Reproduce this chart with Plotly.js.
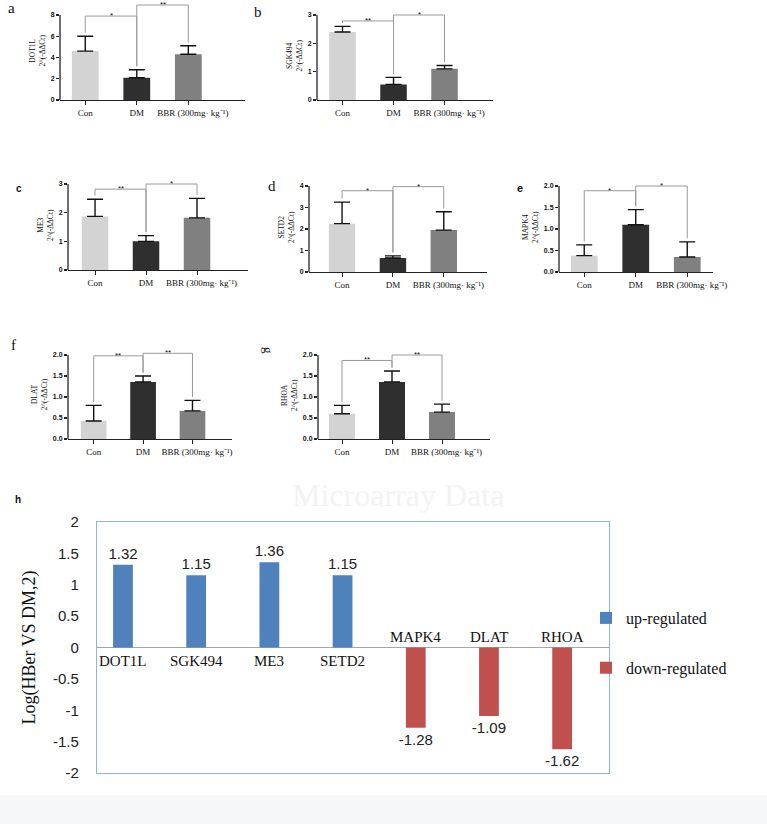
<!DOCTYPE html>
<html>
<head>
<meta charset="utf-8">
<script src="https://cdn.plot.ly/plotly-3.0.1.min.js"></script>
<style>
  html, body { margin: 0; padding: 0; background: #fff; }
  #chart { width: 767px; height: 824px; }
</style>
</head>
<body>
<div id="chart"></div>
<script>
const W = 767, H = 824;

// qPCR panels a-g
const genes = ['DOT1L', 'SGK494', 'ME3', 'SETD2', 'MAPK4', 'DLAT', 'RHOA'];
const groups = ['Con', 'DM', 'BBR (300mg· kg⁻¹)'];
const conMean = [4.6, 2.4, 1.87, 2.25, 0.38, 0.43, 0.60];
const dmMean = [2.1, 0.55, 1.0, 0.65, 1.1, 1.36, 1.36];
const bbrMean = [4.3, 1.1, 1.82, 1.95, 0.35, 0.67, 0.64];
const conErr = [1.4, 0.2, 0.6, 1.0, 0.25, 0.37, 0.2];
const dmErr = [0.75, 0.25, 0.2, 0.1, 0.35, 0.14, 0.26];
const bbrErr = [0.8, 0.12, 0.68, 0.85, 0.35, 0.25, 0.19];
const yMax = [8, 3, 3, 4, 2, 2, 2];
const yStep = [2, 1, 1, 1, 0.5, 0.5, 0.5];
const sigLeft = ['*', '**', '**', '*', '*', '**', '**'];
const sigRight = ['**', '*', '*', '*', '*', '**', '**'];
const sigLeftY = [7.9, 2.79, 2.82, 3.78, 1.89, 1.98, 1.87];
const sigRightY = [8.94, 3.0, 3.0, 3.97, 2.0, 2.04, 2.0];

// panel h
const log2Fc = [1.32, 1.15, 1.36, 1.15, -1.28, -1.09, -1.62];
const hTicks = [-2, -1.5, -1, -0.5, 0, 0.5, 1, 1.5, 2];

// layout of the small panels in px: [left, right, top of yMax, x-axis], x range
const boxes = [
  [60, 245, 15, 100], [317, 493, 15, 100],
  [68, 248, 184, 270], [309, 487, 186, 272], [559, 713, 186, 272],
  [68, 232, 355, 439], [318, 490, 355, 439]
];
const xRanges = [
  [-0.49, 3.1], [-0.5, 2.95], [-0.53, 3.0], [-0.65, 2.85],
  [-0.49, 2.5], [-0.52, 2.8], [-0.48, 2.96]
];
const barColors = ['#d3d3d3', '#2f2f2f', '#808080'];
const serif = 'Liberation Serif, Times New Roman, serif';
const sans = 'Liberation Sans, Arial, sans-serif';
// the BBR label sits a little right of its bar in the original
const bbrPad = '\u00a0'.repeat(4);

const traces = [];
const annotations = [];
const shapes = [{
  type: 'rect', xref: 'paper', yref: 'paper', x0: 0, x1: 1,
  y0: 0, y1: 1 - 795 / H, fillcolor: '#f6f7f8', line: {width: 0}, layer: 'below'
}];
const layout = {
  width: W,
  height: H,
  margin: {l: 0, r: 0, t: 0, b: 0},
  paper_bgcolor: '#fff',
  plot_bgcolor: '#fff',
  barmode: 'overlay',
  showlegend: true,
  legend: {
    x: 586 / W, y: 1 - 601 / H, xanchor: 'left', yanchor: 'top',
    font: {family: serif, size: 16, color: '#111'},
    traceorder: 'grouped', tracegroupgap: 26,
    bgcolor: 'rgba(0,0,0,0)', itemwidth: 30
  }
};

genes.forEach((gene, i) => {
  const n = i + 1;
  const xs = n === 1 ? 'x' : 'x' + n;
  const ys = n === 1 ? 'y' : 'y' + n;
  const [l, r, t, b] = boxes[i];
  const means = [conMean[i], dmMean[i], bbrMean[i]];
  const errs = [conErr[i], dmErr[i], bbrErr[i]];
  const tops = means.map((m, k) => m + errs[k] + 0.04 * yMax[i]);
  // extend the range above the top tick so the brackets are not clipped
  const rangeTop = Math.max(yMax[i], sigLeftY[i], sigRightY[i]) + 0.04 * yMax[i];
  const domTop = Math.max(0, b - (b - t) * rangeTop / yMax[i]);
  const tickVals = [];
  for (let v = 0; v <= yMax[i] + 1e-9; v += yStep[i]) tickVals.push(v);

  traces.push({
    type: 'bar', x: groups, y: means, xaxis: xs, yaxis: ys,
    width: 0.52, marker: {color: barColors, line: {width: 0}},
    error_y: {
      type: 'data', symmetric: false, array: errs, arrayminus: [0, 0, 0],
      color: '#111', thickness: 1.4, width: 8
    },
    showlegend: false, hoverinfo: 'skip'
  });

  // y axis line only up to the top tick
  shapes.push({
    type: 'line', xref: xs + ' domain', yref: ys, x0: 0, x1: 0, y0: 0, y1: yMax[i],
    line: {color: '#222', width: 1.3}
  });

  // significance brackets
  [[0, 1, sigLeftY[i], sigLeft[i]], [1, 2, sigRightY[i], sigRight[i]]].forEach(([a, c, h, s]) => {
    const line = {color: '#9a9a9a', width: 1};
    shapes.push({type: 'line', xref: xs, yref: ys, x0: a, x1: a, y0: tops[a], y1: h, line});
    shapes.push({type: 'line', xref: xs, yref: ys, x0: a, x1: c, y0: h, y1: h, line});
    shapes.push({type: 'line', xref: xs, yref: ys, x0: c, x1: c, y0: h, y1: tops[c], line});
    annotations.push({
      xref: xs, yref: ys, x: (a + c) / 2, y: h, text: s,
      yanchor: 'bottom', yshift: -6, showarrow: false,
      font: {family: sans, size: 8, color: '#111'}
    });
  });

  layout['xaxis' + (n === 1 ? '' : n)] = {
    domain: [l / W, r / W], anchor: ys, type: 'category',
    categoryorder: 'array', categoryarray: groups, range: xRanges[i],
    tickvals: groups, ticktext: groups.map((g, k) => k === 2 ? bbrPad + g : g),
    tickangle: 0,
    showline: true, linecolor: '#222', linewidth: 1.3,
    ticks: 'outside', ticklen: 4, tickcolor: '#222',
    tickfont: {family: serif, size: 9, color: '#111'},
    showgrid: false, zeroline: false, fixedrange: true
  };
  layout['yaxis' + (n === 1 ? '' : n)] = {
    domain: [1 - b / H, 1 - domTop / H], anchor: xs,
    range: [0, rangeTop], tickvals: tickVals,
    ticktext: tickVals.map(v => yStep[i] < 1 ? v.toFixed(1) : String(v)),
    showline: false,
    ticks: 'outside', ticklen: 3, tickcolor: '#222', tickwidth: 1.2,
    tickfont: {family: sans, size: 7, color: '#111', weight: 'bold'},
    title: {
      text: gene + '<br>2^(-ΔΔCt)', standoff: 4,
      font: {family: serif, size: 7.5, color: '#111'}
    },
    showgrid: false, zeroline: false, fixedrange: true
  };
});

// panel h: log2 fold change
const upGenes = genes.filter((g, i) => log2Fc[i] > 0);
const upVals = log2Fc.filter(v => v > 0);
const downGenes = genes.filter((g, i) => log2Fc[i] < 0);
const downVals = log2Fc.filter(v => v < 0);

traces.push({
  type: 'bar', name: 'up-regulated', legendgroup: 'up',
  x: upGenes, y: upVals, xaxis: 'x8', yaxis: 'y8',
  width: 0.27, marker: {color: '#4f81bd'},
  text: upVals.map(v => v.toFixed(2)), textposition: 'outside',
  textfont: {family: sans, size: 15, color: '#222'},
  constraintext: 'none', cliponaxis: false, hoverinfo: 'skip'
});
traces.push({
  type: 'bar', name: 'down-regulated', legendgroup: 'down',
  x: downGenes, y: downVals, xaxis: 'x8', yaxis: 'y8',
  width: 0.27, marker: {color: '#c0504d'},
  text: downVals.map(v => v.toFixed(2)), textposition: 'outside',
  textfont: {family: sans, size: 15, color: '#222'},
  constraintext: 'none', cliponaxis: false, hoverinfo: 'skip'
});

genes.forEach((gene, i) => {
  const up = log2Fc[i] > 0;
  annotations.push({
    xref: 'x8', yref: 'y8', x: gene, y: 0, text: gene,
    yanchor: up ? 'top' : 'bottom', yshift: up ? -3 : 1,
    showarrow: false, font: {family: serif, size: 15, color: '#111'}
  });
});

layout.xaxis8 = {
  domain: [97 / W, 609 / W], anchor: 'y8', type: 'category',
  categoryorder: 'array', categoryarray: genes, range: [-0.355, 6.64],
  showticklabels: false, ticks: '', showline: true, mirror: true,
  linecolor: '#8db3e2', linewidth: 1.2, showgrid: false, zeroline: false
};
layout.yaxis8 = {
  domain: [1 - 773 / H, 1 - 522 / H], anchor: 'x8', range: [-2, 2],
  tickvals: hTicks, ticktext: hTicks.map(String),
  ticks: 'outside', ticklen: 14, tickcolor: 'rgba(0,0,0,0)',
  tickfont: {family: sans, size: 15, color: '#222'},
  showline: true, mirror: true, linecolor: '#8db3e2', linewidth: 1.2,
  zeroline: true, zerolinecolor: '#a6a6a6', zerolinewidth: 1.2, showgrid: false,
  title: {text: 'Log(HBer VS DM,2)', standoff: 12, font: {family: serif, size: 18, color: '#111'}}
};

// panel letters and faint background title
const letters = [
  ['a', 11, 8, serif, 15, 'normal', 0], ['b', 258, 12, serif, 15, 'normal', 0],
  ['c', 19, 188, sans, 10, 'bold', 0], ['d', 272, 186, serif, 15, 'normal', 0],
  ['e', 520, 188, sans, 11, 'bold', 0], ['f', 14, 345, serif, 15, 'normal', 0],
  ['g', 268, 350, serif, 13, 'normal', 90], ['h', 18, 500, sans, 10, 'bold', 0]
];
letters.forEach(([txt, x, y, fam, size, weight, ang]) => {
  annotations.push({
    xref: 'paper', yref: 'paper', x: x / W, y: 1 - y / H, text: txt,
    showarrow: false, xanchor: 'center', yanchor: 'middle', textangle: ang,
    font: {family: fam, size: size, weight: weight, color: '#111'}
  });
});
annotations.push({
  xref: 'paper', yref: 'paper', x: 398 / W, y: 1 - 495 / H, text: 'Microarray Data',
  showarrow: false, font: {family: serif, size: 32, color: '#f3f3f3'}
});

layout.annotations = annotations;
layout.shapes = shapes;

Plotly.newPlot('chart', traces, layout, {displayModeBar: false, staticPlot: true});
</script>
</body>
</html>
